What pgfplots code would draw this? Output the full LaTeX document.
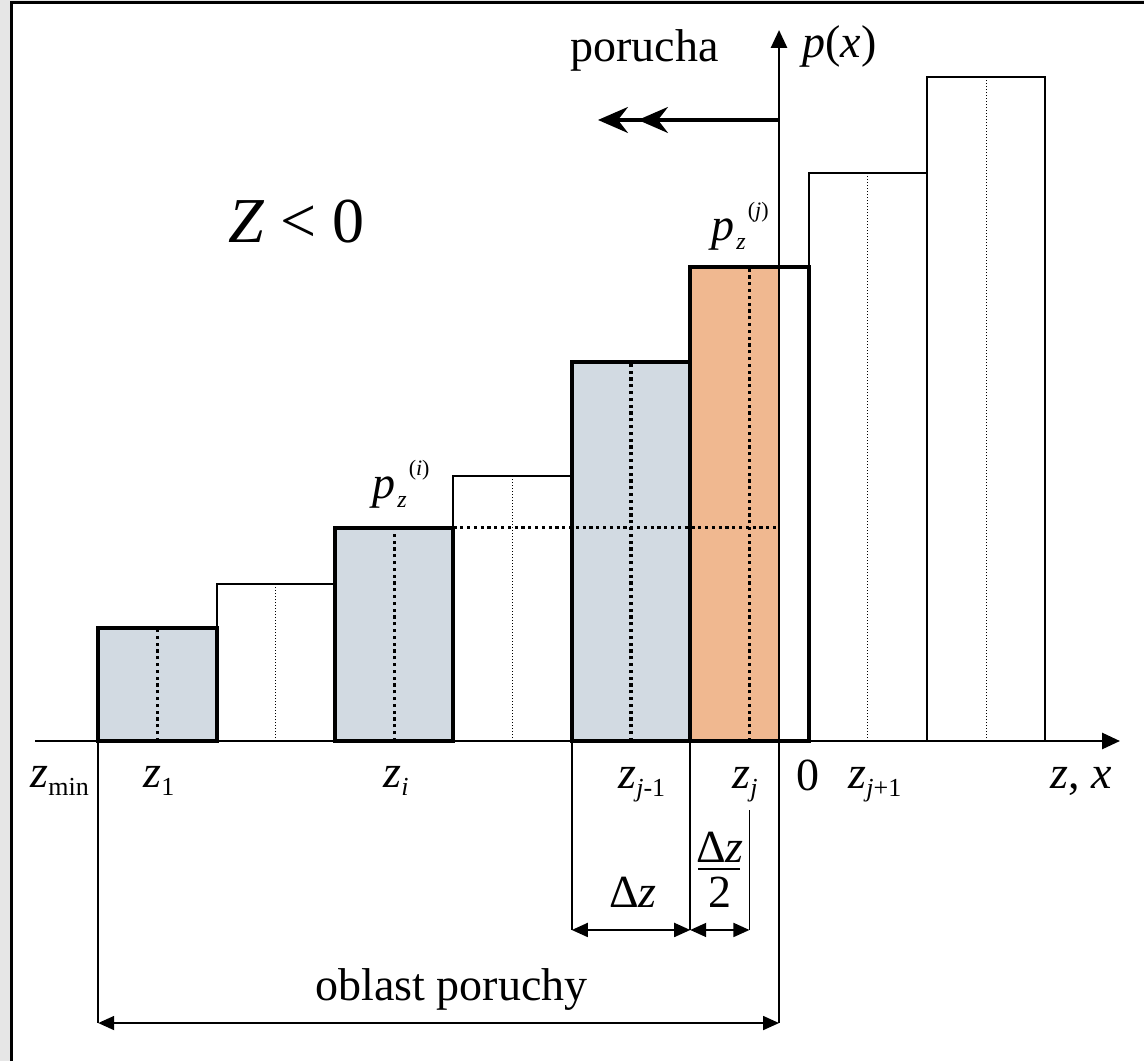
\documentclass[border=0pt]{standalone}
\usepackage{fontspec}
\setmainfont{Liberation Serif}
\usepackage{pgfplots}
\pgfplotsset{compat=1.18}
\usetikzlibrary{arrows.meta}

\definecolor{barblue}{HTML}{D2DAE2}
\definecolor{barorange}{HTML}{F0B890}
\definecolor{edgegray}{HTML}{E6E6E6}

\newcommand\lab{\fontsize{23}{27}\selectfont}
\newcommand\sub[1]{\raisebox{-4pt}{\fontsize{13}{15}\selectfont #1}}
\newcommand\pz[1]{\textit{p}\kern1pt\raisebox{-4.5pt}{\fontsize{12}{14}\selectfont\textit{z}}\kern1pt\raisebox{11.5pt}{\fontsize{11}{13}\selectfont(\textit{#1})}}

\tikzset{
  thickedge/.style={draw=black, line width=2pt, line join=miter},
  thinedge/.style={draw=black, line width=1pt},
  bigdots/.style={line width=1.6pt, dash pattern=on 1.6pt off 1.8pt},
  smalldots/.style={line width=0.6pt, dash pattern=on 0.6pt off 0.9pt},
  dim/.style={line width=0.9pt},
  dimarrow/.style={line width=0.9pt, {Triangle[length=8pt,width=7pt]}-{Triangle[length=8pt,width=7pt]}},
}

\begin{document}
\begin{tikzpicture}
% page and frame
\path[use as bounding box] (0,0) rectangle (572pt,530.5pt);
\fill[edgegray] (0,0) rectangle (5pt,530.5pt);
\fill[edgegray] (0,529.6pt) rectangle (572pt,530.5pt);
\draw[line width=1.4pt] (5.7pt,0) -- (5.7pt,529.1pt) -- (572pt,529.1pt);

\begin{axis}[
  at={(17.5pt,160pt)}, anchor=south west,
  scale only axis, width=542.5pt, height=355.5pt,
  xmin=-6.284, xmax=2.880, ymin=0, ymax=6.005,
  axis lines=middle,
  axis line style={line width=1.4pt, -{Triangle[length=9pt,width=8pt]}},
  xtick=\empty, ytick=\empty,
  clip=false, axis on top,
]
% white bars (thin outline)
\addplot[thinedge, fill=white, mark=none] coordinates {(-4.75,0) (-4.75,1.326) (-3.75,1.326) (-3.75,0)} --cycle;
\addplot[thinedge, fill=white, mark=none] coordinates {(-2.75,0) (-2.75,2.238) (-1.75,2.238) (-1.75,0)} --cycle;
\addplot[thinedge, fill=white, mark=none] coordinates {(0.25,0) (0.25,4.80) (1.25,4.80) (1.25,0)} --cycle;
\addplot[thinedge, fill=white, mark=none] coordinates {(1.25,0) (1.25,5.61) (2.25,5.61) (2.25,0)} --cycle;

% failure-region bars (thick outline)
\addplot[thickedge, fill=barblue, mark=none] coordinates {(-5.75,0) (-5.75,0.955) (-4.75,0.955) (-4.75,0)} --cycle;
\addplot[thickedge, fill=barblue, mark=none] coordinates {(-3.75,0) (-3.75,1.80) (-2.75,1.80) (-2.75,0)} --cycle;
\addplot[thickedge, fill=barblue, mark=none] coordinates {(-1.75,0) (-1.75,3.20) (-0.75,3.20) (-0.75,0)} --cycle;
\addplot[draw=none, fill=barorange, mark=none] coordinates {(-0.75,0) (-0.75,4.00) (0,4.00) (0,0)} --cycle;
\addplot[thickedge, mark=none] coordinates {(-0.75,0) (-0.75,4.00) (0.25,4.00) (0.25,0)} --cycle;

% bar midpoints
\addplot[bigdots, mark=none] coordinates {(-5.25,0) (-5.25,0.955)};
\addplot[smalldots, mark=none] coordinates {(-4.25,0) (-4.25,1.326)};
\addplot[bigdots, mark=none] coordinates {(-3.25,0) (-3.25,1.80)};
\addplot[smalldots, mark=none] coordinates {(-2.25,0) (-2.25,2.238)};
\addplot[bigdots, mark=none] coordinates {(-1.25,0) (-1.25,3.20)};
\addplot[bigdots, mark=none] coordinates {(-0.25,0) (-0.25,4.00)};
\addplot[smalldots, mark=none] coordinates {(0.75,0) (0.75,4.80)};
\addplot[smalldots, mark=none] coordinates {(1.75,0) (1.75,5.61)};
% level of p_z^(i)
\addplot[bigdots, mark=none] coordinates {(-2.75,1.80) (0,1.80)};

% dimension lines
\draw[dim] (axis cs:-5.75,0) -- (axis cs:-5.75,-2.382);
\draw[dim] (axis cs:0,0) -- (axis cs:0,-2.382);
\draw[dim] (axis cs:-1.75,0) -- (axis cs:-1.75,-1.596);
\draw[dim] (axis cs:-0.75,0) -- (axis cs:-0.75,-1.596);
\draw[dim] (axis cs:-0.25,-0.583) -- (axis cs:-0.25,-1.596);
\draw[dimarrow] (axis cs:-1.75,-1.596) -- (axis cs:-0.75,-1.596);
\draw[dimarrow] (axis cs:-0.75,-1.596) -- (axis cs:-0.25,-1.596);
\draw[dimarrow] (axis cs:-5.75,-2.382) -- (axis cs:0,-2.382);

% failure direction
\draw[line width=1.6pt, -{Stealth[length=15pt,width=13pt,inset=5pt,sep=5pt]Stealth[length=15pt,width=13pt,inset=5pt]}]
  (axis cs:0,5.245) -- (axis cs:-1.529,5.245);

% labels
\node[font=\lab, anchor=base west, inner sep=0] at (axis cs:0.194,5.769) {\textit{p}(\textit{x})};
\node[font=\lab, anchor=base west, inner sep=0] at (axis cs:-1.765,5.735) {porucha};
\node[font=\fontsize{32}{38}\selectfont, anchor=base west, inner sep=0] at (axis cs:-4.654,4.206) {\textit{Z} < 0};
\node[font=\lab, anchor=base west, inner sep=0] at (axis cs:-3.4375,2.044) {\pz{i}};
\node[font=\lab, anchor=base west, inner sep=0] at (axis cs:-0.574,4.231) {\pz{j}};

\node[font=\lab, anchor=base west, inner sep=0] at (axis cs:-6.326,-0.389) {\textit{z}\sub{min}};
\node[font=\lab, anchor=base west, inner sep=0] at (axis cs:-5.372,-0.389) {\textit{z}\sub{1}};
\node[font=\lab, anchor=base west, inner sep=0] at (axis cs:-3.345,-0.389) {\textit{z}\sub{\textit{i}}};
\node[font=\lab, anchor=base west, inner sep=0] at (axis cs:-1.360,-0.405) {\textit{z}\sub{\textit{j}-1}};
\node[font=\lab, anchor=base west, inner sep=0] at (axis cs:-0.397,-0.405) {\textit{z}\sub{\textit{j}}};
\node[font=\lab, anchor=base, inner sep=0] at (axis cs:0.245,-0.414) {0};
\node[font=\lab, anchor=base west, inner sep=0] at (axis cs:0.583,-0.405) {\textit{z}\sub{\textit{j}+1}};
\node[font=\lab, anchor=base west, inner sep=0] at (axis cs:2.289,-0.405) {\textit{z}, \textit{x}};

\node[font=\lab, anchor=base, inner sep=0] at (axis cs:-1.233,-1.410) {Δ\textit{z}};
% half-width fraction
\node[font=\lab, anchor=base, inner sep=0] at (axis cs:-0.498,-1.022) {Δ\textit{z}};
\draw[line width=1.3pt] (axis cs:-0.684,-1.081) -- (axis cs:-0.329,-1.081);
\node[font=\lab, anchor=base, inner sep=0] at (axis cs:-0.498,-1.410) {2};
\node[font=\lab, anchor=base west, inner sep=0] at (axis cs:-3.919,-2.188) {oblast poruchy};
\end{axis}
\end{tikzpicture}
\end{document}
